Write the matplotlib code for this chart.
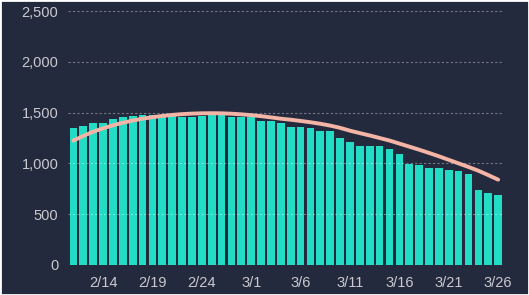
import matplotlib
matplotlib.use("Agg")
import matplotlib.pyplot as plt
from matplotlib.patches import Rectangle
import numpy as np
import datetime as dt

BG = "#242a3d"
BAR = "#22dcc6"
LINE = "#f4b4a6"
TEXT = "#c9c9cf"

start = dt.date(2021, 2, 11)
counts = [1351, 1368, 1394, 1400, 1437, 1453, 1470, 1476, 1476, 1478, 1462,
          1459, 1459, 1466, 1476, 1476, 1459, 1453, 1453, 1420, 1420, 1400,
          1361, 1355, 1348, 1322, 1322, 1253, 1206, 1174, 1174, 1171, 1138,
          1092, 991, 981, 954, 954, 935, 922, 892, 738, 705, 692]
trend = [1225, 1270, 1312, 1345, 1375, 1400, 1422, 1440, 1455, 1467, 1477,
         1485, 1490, 1493, 1494, 1493, 1489, 1483, 1475, 1465, 1453, 1440,
         1430, 1418, 1405, 1390, 1372, 1350, 1322, 1298, 1275, 1250, 1225,
         1195, 1165, 1135, 1103, 1070, 1035, 1000, 965, 928, 885, 840]
days = [start + dt.timedelta(days=i) for i in range(len(counts))]
labels = [f"{d.month}/{d.day}" for d in days]
yticks = [0, 500, 1000, 1500, 2000, 2500]


def main():
    plt.rcParams["font.family"] = ["Liberation Sans", "DejaVu Sans"]
    fig = plt.figure(figsize=(5.29, 2.95), dpi=100)
    fig.patch.set_facecolor(BG)
    ax = fig.add_axes([0.1285, 0.1017, 0.951 - 0.1285, 0.9627 - 0.1017])
    ax.set_facecolor(BG)

    x = np.arange(len(counts))
    ax.bar(x, counts, width=0.78, color=BAR, zorder=2)
    ax.plot(x, trend, color=LINE, lw=2.8, solid_capstyle="round", zorder=4)

    ax.set_ylim(0, 2500)
    ax.set_xlim(-0.55, 43.5)
    ax.set_yticks(yticks)
    ax.set_yticklabels([f"{v:,}" for v in yticks])
    tick_idx = list(range(3, len(counts), 5))
    ax.set_xticks(tick_idx)
    ax.set_xticklabels([labels[i] for i in tick_idx])

    # dashed grid sits faintly over the bars
    ax.set_axisbelow(False)
    ax.grid(axis="y", color="white", alpha=0.38, linestyle=(0, (2, 2)),
            linewidth=0.8, zorder=3)
    ax.grid(axis="x", visible=False)
    for s in ax.spines.values():
        s.set_visible(False)
    ax.tick_params(axis="both", length=0, colors=TEXT, labelsize=10.5)
    ax.tick_params(axis="y", pad=7)
    ax.tick_params(axis="x", pad=8)

    fig.add_artist(Rectangle((0, 0), 1, 1, transform=fig.transFigure,
                             fill=False, ec="white", lw=2))

    fig.savefig("out.png", dpi=100, facecolor=BG)


if __name__ == "__main__":
    main()
